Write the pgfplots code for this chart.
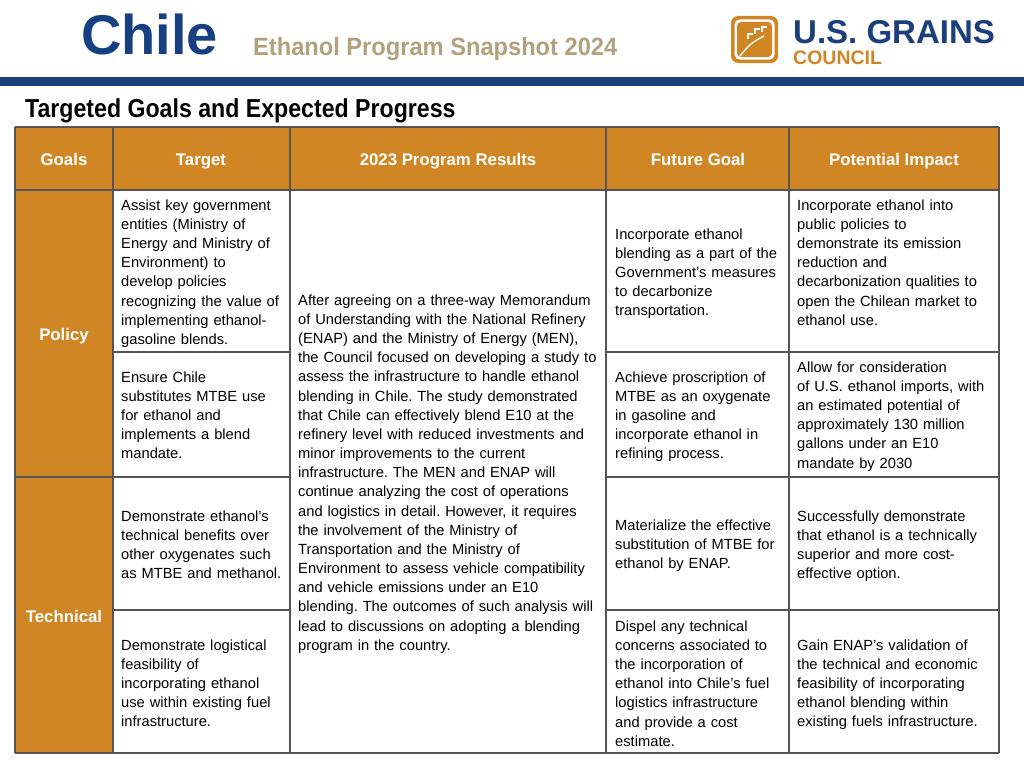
\documentclass[border=0pt]{standalone}
\usepackage{pgfplots}
\pgfplotsset{compat=1.18}
\usepackage{fontspec}
\setmainfont{Liberation Sans}
\frenchspacing
\definecolor{usgorange}{RGB}{208,134,36}
\definecolor{usgblue}{RGB}{27,63,122}
\definecolor{chileblue}{RGB}{22,64,130}
\definecolor{tanc}{RGB}{178,161,125}
\definecolor{gridc}{RGB}{85,85,85}
\newcommand\body{\fontsize{14.7}{19.17}\selectfont\frenchspacing}
\newcommand\hdr{\fontsize{16.8}{19}\selectfont\bfseries}
\newcommand\cell[4]{\node[anchor=north west,inner sep=0pt,text width=#3pt,align=left,font=\body] at (axis cs:#1,#2) {\strut #4};}
\begin{document}
\begin{tikzpicture}
\begin{axis}[scale only axis, width=1024pt, height=768pt,
  xmin=0, xmax=1024, ymin=0, ymax=768, y dir=reverse,
  hide axis, clip=false, no markers]
\path (axis cs:0,0) rectangle (axis cs:1024,768);
% backgrounds
\addplot[fill=usgblue, draw=none, forget plot] coordinates {(0,77)(1024,77)(1024,86)(0,86)} --cycle;
\addplot[fill=usgorange, draw=none, forget plot] coordinates {(15,127)(999,127)(999,190)(15,190)} --cycle;
\addplot[fill=usgorange, draw=none, forget plot] coordinates {(15,190)(113,190)(113,753)(15,753)} --cycle;
% grid lines
\addplot[gridc, line width=1.4pt, forget plot] coordinates {(15,127)(999,127)};
\addplot[gridc, line width=1.4pt, forget plot] coordinates {(15,190)(999,190)};
\addplot[gridc, line width=1.4pt, forget plot] coordinates {(113,352)(290,352)};
\addplot[gridc, line width=1.4pt, forget plot] coordinates {(606,352)(999,352)};
\addplot[gridc, line width=1.4pt, forget plot] coordinates {(15,477)(290,477)};
\addplot[gridc, line width=1.4pt, forget plot] coordinates {(606,477)(999,477)};
\addplot[gridc, line width=1.4pt, forget plot] coordinates {(113,610)(290,610)};
\addplot[gridc, line width=1.4pt, forget plot] coordinates {(606,610)(999,610)};
\addplot[gridc, line width=1.4pt, forget plot] coordinates {(15,753)(999,753)};
\addplot[gridc, line width=1.4pt, forget plot] coordinates {(15,127)(15,753)};
\addplot[gridc, line width=1.4pt, forget plot] coordinates {(113,127)(113,753)};
\addplot[gridc, line width=1.4pt, forget plot] coordinates {(290,127)(290,753)};
\addplot[gridc, line width=1.4pt, forget plot] coordinates {(606,127)(606,753)};
\addplot[gridc, line width=1.4pt, forget plot] coordinates {(789,127)(789,753)};
\addplot[gridc, line width=1.4pt, forget plot] coordinates {(999,127)(999,753)};
% titles
\node[anchor=base west, inner sep=0pt, font=\fontsize{56}{60}\selectfont\bfseries, text=chileblue] at (axis cs:81,55) {Chile};
\node[anchor=base west, inner sep=0pt, font=\fontsize{25}{28}\selectfont\bfseries, text=tanc, xscale=0.946] at (axis cs:253,56) {Ethanol Program Snapshot 2024};
\node[anchor=base west, inner sep=0pt, font=\fontsize{26}{28}\selectfont\bfseries, text=black, xscale=0.89] at (axis cs:25,117) {Targeted Goals and Expected Progress};
% logo
\fill[usgorange, rounded corners=7pt] (axis cs:731,16) rectangle (axis cs:778,63);
\fill[white, rounded corners=5pt] (axis cs:734.5,19.5) rectangle (axis cs:774.5,59.5);
\fill[usgorange, rounded corners=4pt] (axis cs:737,22) rectangle (axis cs:772,57);
\draw[white, line width=1.3pt] (axis cs:740,56) .. controls (axis cs:748,46) and (axis cs:752,42) .. (axis cs:764,36);
\fill[white] (axis cs:747,33) rectangle (axis cs:753,39);
\fill[white] (axis cs:754,28) rectangle (axis cs:760,34);
\fill[white] (axis cs:761,26) rectangle (axis cs:767,32);
\fill[usgorange] (axis cs:749,35) rectangle (axis cs:753,39);
\fill[usgorange] (axis cs:756,30) rectangle (axis cs:760,34);
\fill[usgorange] (axis cs:763,28) rectangle (axis cs:767,32);
\node[anchor=base west, inner sep=0pt, font=\fontsize{33}{36}\selectfont\bfseries, text=usgblue] at (axis cs:793,43.5) {U.S. GRAINS};
\node[anchor=base west, inner sep=0pt, font=\fontsize{19.5}{22}\selectfont\bfseries, text=usgorange] at (axis cs:793,64) {COUNCIL};
% header
\node[anchor=base, inner sep=0pt, font=\hdr, text=white] at (axis cs:64,165) {Goals};
\node[anchor=base, inner sep=0pt, font=\hdr, text=white] at (axis cs:201,165) {Target};
\node[anchor=base, inner sep=0pt, font=\hdr, text=white] at (axis cs:448,165) {2023 Program Results};
\node[anchor=base, inner sep=0pt, font=\hdr, text=white] at (axis cs:698,165) {Future Goal};
\node[anchor=base, inner sep=0pt, font=\hdr, text=white] at (axis cs:894,165) {Potential Impact};
\node[anchor=base, inner sep=0pt, font=\hdr, text=white] at (axis cs:64,340) {Policy};
\node[anchor=base, inner sep=0pt, font=\hdr, text=white] at (axis cs:64,622) {Technical};
% target column
\cell{121}{196.6}{175}{Assist key government\\entities (Ministry of\\Energy and Ministry of\\Environment) to\\develop policies\\recognizing the value of\\implementing ethanol-\\gasoline blends.}
\cell{121}{368.6}{175}{Ensure Chile\\substitutes MTBE use\\for ethanol and\\implements a blend\\mandate.}
\cell{121}{507.6}{175}{Demonstrate ethanol’s\\technical benefits over\\other oxygenates such\\as MTBE and methanol.}
\cell{121}{636.6}{175}{Demonstrate logistical\\feasibility of\\incorporating ethanol\\use within existing fuel\\infrastructure.}
% results column
\cell{298}{291.6}{310}{After agreeing on a three-way Memorandum\\of Understanding with the National Refinery\\(ENAP) and the Ministry of Energy (MEN),\\the Council focused on developing a study to\\assess the infrastructure to handle ethanol\\blending in Chile. The study demonstrated\\that Chile can effectively blend E10 at the\\refinery level with reduced investments and\\minor improvements to the current\\infrastructure. The MEN and ENAP will\\continue analyzing the cost of operations\\and logistics in detail. However, it requires\\the involvement of the Ministry of\\Transportation and the Ministry of\\Environment to assess vehicle compatibility\\and vehicle emissions under an E10\\blending. The outcomes of such analysis will\\lead to discussions on adopting a blending\\program in the country.}
% future column
\cell{615}{225.6}{180}{Incorporate ethanol\\blending as a part of the\\Government’s measures\\to decarbonize\\transportation.}
\cell{615}{368.6}{180}{Achieve proscription of\\MTBE as an oxygenate\\in gasoline and\\incorporate ethanol in\\refining process.}
\cell{615}{516.6}{180}{Materialize the effective\\substitution of MTBE for\\ethanol by ENAP.}
\cell{615}{617.6}{180}{Dispel any technical\\concerns associated to\\the incorporation of\\ethanol into Chile’s fuel\\logistics infrastructure\\and provide a cost\\estimate.}
% impact column
\cell{797}{196.6}{215}{Incorporate ethanol into\\public policies to\\demonstrate its emission\\reduction and\\decarbonization qualities to\\open the Chilean market to\\ethanol use.}
\cell{797}{358.6}{215}{Allow for consideration\\of U.S. ethanol imports, with\\an estimated potential of\\approximately 130 million\\gallons under an E10\\mandate by 2030}
\cell{797}{507.6}{215}{Successfully demonstrate\\that ethanol is a technically\\superior and more cost-\\effective option.}
\cell{797}{636.6}{215}{Gain ENAP’s validation of\\the technical and economic\\feasibility of incorporating\\ethanol blending within\\existing fuels infrastructure.}
\end{axis}
\end{tikzpicture}
\end{document}
